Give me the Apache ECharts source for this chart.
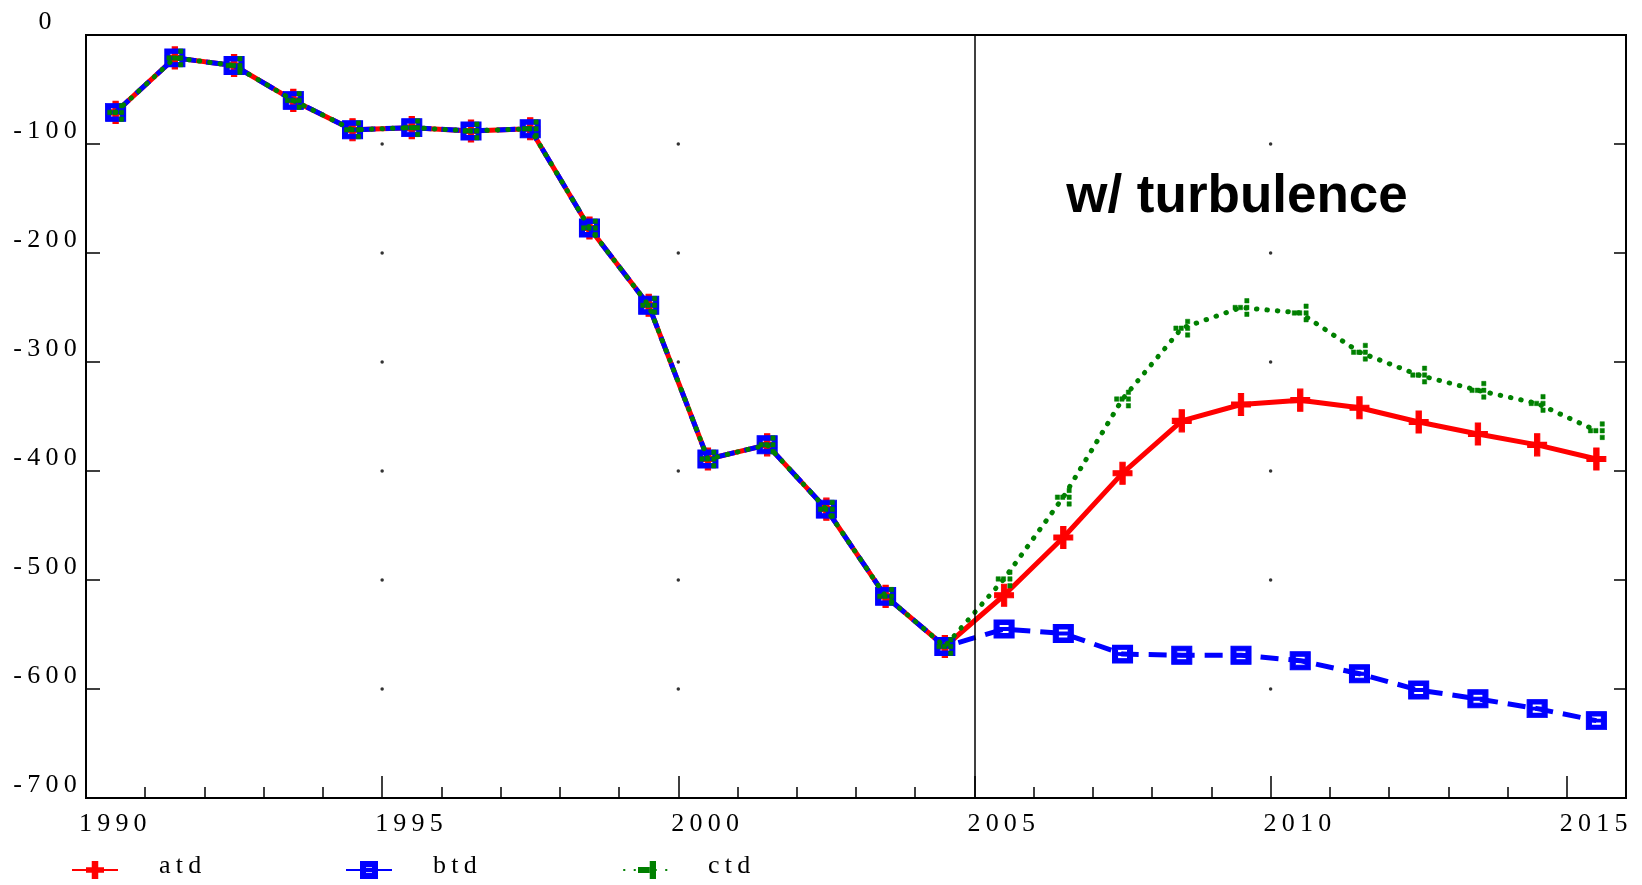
<!DOCTYPE html>
<html>
<head>
<meta charset="utf-8">
<script src="https://cdn.jsdelivr.net/npm/echarts@6/dist/echarts.min.js"></script>
<style>
html,body{margin:0;padding:0;background:#fff;}
#chart{width:1642px;height:885px;}
</style>
</head>
<body>
<div id="chart"></div>
<script>
// ---- data ----
const years = [1990,1991,1992,1993,1994,1995,1996,1997,1998,1999,2000,2001,2002,2003,2004,
               2005,2006,2007,2008,2009,2010,2011,2012,2013,2014,2015];
const atd = [-71,-21,-28,-60,-87,-85,-88,-86,-177,-248,-389,-376,-435,-515,-561,
             -514,-461,-402,-354,-339,-335,-342,-355,-366,-376,-389];
const btd = [-71,-21,-28,-60,-87,-85,-88,-86,-177,-248,-389,-376,-435,-515,-561,
             -545,-549,-568,-569,-569,-574,-586,-601,-609,-618,-629];
const ctd = [-71,-21,-28,-60,-87,-85,-88,-86,-177,-248,-389,-376,-435,-515,-561,
             -499,-424,-334,-269,-250,-255,-291,-312,-326,-338,-363];
const seriesNames = ['atd','btd','ctd'];
const yTicks = [0,-100,-200,-300,-400,-500,-600,-700];
const xLabelYears = [1990,1995,2000,2005,2010,2015];
const gridDotYears = [1995,2000,2010];
const gridDotValues = [-100,-200,-300,-400,-500,-600];
const splitYear = 2005;
const annotation = 'w/ turbulence';

// values are plotted at the middle of each year
const pts = arr => years.map((y,i) => [y + 0.5, arr[i]]);
const THIN = '\u2009';
const spaced = s => String(s).split('').join(THIN);
const serif = '"Liberation Serif", "Times New Roman", serif';

const gridDots = [];
gridDotYears.forEach(x => gridDotValues.forEach(v => gridDots.push([x, v])));

const plusSym = 'path://M7,0H12.5V22H7Z M0,8.5H19.5V13.5H0Z';
const boxSym = 'path://M0,0H20V18H0Z M5,4.5V7.5H15V4.5Z M5,10.5V13.5H15V10.5Z';
const dotSym = 'path://M0,7H4V11H0Z M5,7H9V11H5Z M11,1H15V5H11Z M11,7H15V11H11Z M11,13H15V17H11Z';

const legendLefts = [66, 340, 618];
const legendTextX = [159, 433, 708];
const legendY = 866;

const chart = echarts.init(document.getElementById('chart'), null, {renderer:'canvas'});
chart.setOption({
  animation: false,
  backgroundColor: '#fff',
  grid: {left: 86, top: 35, right: 16, bottom: 87, show: true, borderColor: '#000', borderWidth: 2, backgroundColor: 'transparent'},
  xAxis: [
    {type:'value', min:1990, max:2016, interval:1, position:'bottom',
     axisLine:{show:true, onZero:false, lineStyle:{color:'#000', width:2}},
     axisTick:{show:true, inside:true, length:11, lineStyle:{color:'#000', width:1.5}},
     axisLabel:{show:false}, splitLine:{show:false}},
    {type:'value', min:1990, max:2016, interval:5, position:'bottom', offset:0,
     axisLine:{show:false, onZero:false},
     axisTick:{show:true, inside:true, length:22, lineStyle:{color:'#000', width:1.5}},
     axisLabel:{show:true, align:'left', margin:13, padding:[0,0,0,-7],
       fontFamily: serif, fontSize:26, color:'#000',
       formatter: v => xLabelYears.indexOf(v) >= 0 ? spaced(v) : ''},
     splitLine:{show:false}}
  ],
  yAxis: [
    {type:'value', min:-700, max:0, interval:100, position:'left',
     axisLine:{show:true, onZero:false, lineStyle:{color:'#000', width:2}},
     axisTick:{show:true, inside:true, length:14, lineStyle:{color:'#000', width:1.5}},
     axisLabel:{show:true, align:'center', verticalAlign:'bottom', margin:41,
       fontFamily: serif, fontSize:26, color:'#000',
       formatter: v => yTicks.indexOf(v) >= 0 ? spaced(v) : ''},
     splitLine:{show:false}},
    {type:'value', min:-700, max:0, interval:100, position:'right',
     axisLine:{show:true, onZero:false, lineStyle:{color:'#000', width:2}},
     axisTick:{show:true, inside:true, length:12, lineStyle:{color:'#000', width:1.5}},
     axisLabel:{show:false}, splitLine:{show:false}}
  ],
  legend: seriesNames.map((n, i) => ({
    data:[n], left: legendLefts[i], top: 855, itemWidth:46, itemHeight:20, itemGap:0,
    formatter: () => '', textStyle:{fontSize:1}
  })),
  graphic: [
    {type:'text', x:1237, y:197, z:100,
     style:{text: annotation, fontFamily:'"Liberation Sans", Arial, sans-serif', fontWeight:'bold', fontSize:53,
            fill:'#000', align:'center', verticalAlign:'middle', textAlign:'center', textVerticalAlign:'middle'}}
  ].concat(seriesNames.map((n, i) => ({
    type:'text', x: legendTextX[i], y: legendY, z:100,
    style:{text: spaced(n), fontFamily: serif, fontSize:26, fill:'#000',
           align:'left', verticalAlign:'middle', textAlign:'left', textVerticalAlign:'middle'}
  }))),
  series: [
    {name:'grid dots', type:'scatter', data: gridDots, symbol:'circle', symbolSize:3.5,
     itemStyle:{color:'#000'}, silent:true, z:1,
     markLine:{silent:true, symbol:['none','none'], label:{show:false},
       lineStyle:{color:'#000', width:1.5, type:'solid'}, data:[{xAxis: splitYear}]}},
    {name:'atd', type:'line', data: pts(atd), symbol: plusSym, symbolSize:[19,22],
     lineStyle:{color:'#ff0000', width:5}, itemStyle:{color:'#ff0000', borderColor:'#ff0000', borderWidth:1}, z:2},
    {name:'btd', type:'line', data: pts(btd), symbol: boxSym, symbolSize:[20,18],
     lineStyle:{color:'#0000ff', width:5, type:[18,10]}, itemStyle:{color:'#0000ff', borderColor:'#0000ff', borderWidth:1}, z:3},
    {name:'ctd', type:'line', data: pts(ctd), symbol: dotSym, symbolSize:[16,18],
     lineStyle:{color:'#008000', width:5, type:[0.5,10], cap:'round'}, itemStyle:{color:'#008000', borderColor:'#008000', borderWidth:0.5}, z:4}
  ]
});
</script>
</body>
</html>
